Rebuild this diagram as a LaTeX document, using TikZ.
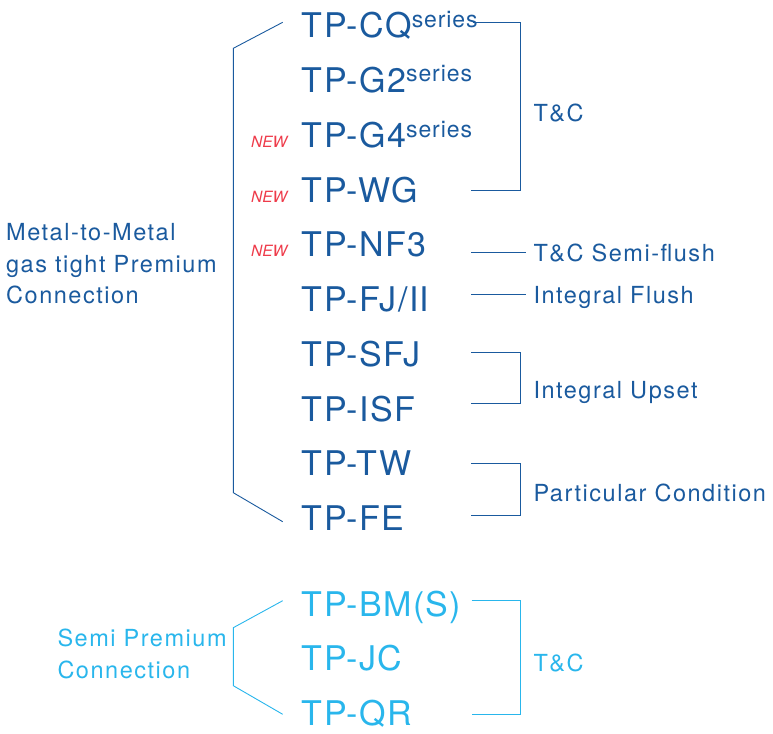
\documentclass[tikz,border=0pt]{standalone}
\usepackage{fontspec}
\setmainfont{TeX Gyre Heros}
\newfontfamily\prodfont[LetterSpace=4]{TeX Gyre Heros}
\newfontfamily\labfont[LetterSpace=6.5]{TeX Gyre Heros}
\definecolor{dblue}{HTML}{1A5A9E}
\definecolor{lblue}{HTML}{29B6EC}
\definecolor{newred}{HTML}{EE3B4A}
\newcommand\serieslab{\raisebox{10.6pt}{\fontsize{23}{23}\selectfont series}}
\begin{document}
\begin{tikzpicture}[x=1pt,y=-1pt,
  prod/.style={anchor=base west,inner sep=0pt,text=dblue,font=\prodfont\fontsize{34}{34}\selectfont},
  lprod/.style={prod,text=lblue},
  lab/.style={anchor=base west,inner sep=0pt,text=dblue,font=\labfont\fontsize{23.5}{23.5}\selectfont},
  llab/.style={lab,text=lblue},
  newtag/.style={anchor=base east,inner sep=0pt,text=newred,font=\fontsize{15.5}{15.5}\selectfont\itshape},
  brk/.style={draw=dblue,line width=0.9pt},
  lbrk/.style={draw=lblue,line width=0.9pt}]
\useasboundingbox (0,0) rectangle (773,733);

% product names (premium)
\node[prod] (cq)  at (301.7,37.7)  {TP-CQ\serieslab};
\node[prod] (g2)  at (301.7,92.3)  {TP-G2\serieslab};
\node[prod] (g4)  at (301.7,147.7) {TP-G4\serieslab};
\node[prod] (wg)  at (301.7,202.3) {TP-WG};
\node[prod] (nf3) at (301.7,256.7) {TP-NF3};
\node[prod] (fj)  at (301.7,311)   {TP-FJ/II};
\node[prod] (sfj) at (301.7,366.7) {TP-SFJ};
\node[prod] (isf) at (301.7,421)   {TP-ISF};
\node[prod] (tw)  at (301.7,475.5) {TP-TW};
\node[prod] (fe)  at (301.7,530)   {TP-FE};

% NEW tags
\node[newtag] (new1) at (287.5,147.7) {NEW};
\node[newtag] (new2) at (287.5,202.3) {NEW};
\node[newtag] (new3) at (287.5,256.7) {NEW};

% semi premium products
\node[lprod] (bm) at (301.7,616.7) {TP-BM(S)};
\node[lprod] (jc) at (301.7,670.7) {TP-JC};
\node[lprod] (qr) at (301.7,725.7) {TP-QR};

% left group labels
\node[lab] (mm1) at (6,240.7) {Metal-to-Metal};
\node[lab] (mm2) at (6,272.7) {gas tight Premium};
\node[lab] (mm3) at (6,303.6) {Connection};
\node[llab] (sp1) at (57.3,646) {Semi Premium};
\node[llab] (sp2) at (57.3,678.3) {Connection};

% right labels
\node[lab] (tc1) at (533.3,121.4) {T\&C};
\node[lab] (tcs) at (533.3,261.7) {T\&C Semi-flush};
\node[lab] (ifl) at (533.3,303.3) {Integral Flush};
\node[lab] (iup) at (533.3,398.3) {Integral Upset};
\node[lab] (pc)  at (533.3,501.7) {Particular Condition};
\node[llab] (tc2) at (533.3,671.3) {T\&C};

% bracket coordinates
\coordinate (a1) at (282.7,22.3);
\coordinate (a2) at (233.3,48.3);
\coordinate (a3) at (233.3,492.7);
\coordinate (a4) at (282.7,521.7);
\draw[brk] (a1) -- (a2) -- (a3) -- (a4);

\coordinate (b1) at (473,22.3);
\coordinate (b2) at (520,22.3);
\coordinate (b3) at (520,190.7);
\coordinate (b4) at (470.7,190.7);
\draw[brk] (b1) -- (b2) -- (b3) -- (b4);

\coordinate (c1) at (471,252.7);
\coordinate (c2) at (526,252.7);
\draw[brk] (c1) -- (c2);

\coordinate (d1) at (471,294.7);
\coordinate (d2) at (526,294.7);
\draw[brk] (d1) -- (d2);

\coordinate (e1) at (471,352.3);
\coordinate (e2) at (520,352.3);
\coordinate (e3) at (520,403.3);
\coordinate (e4) at (471,403.3);
\draw[brk] (e1) -- (e2) -- (e3) -- (e4);

\coordinate (f1) at (471,463.3);
\coordinate (f2) at (520,463.3);
\coordinate (f3) at (520,515);
\coordinate (f4) at (471,515);
\draw[brk] (f1) -- (f2) -- (f3) -- (f4);

\coordinate (g1) at (282.7,600.7);
\coordinate (g2c) at (233.3,627.7);
\coordinate (g3) at (233.3,685.7);
\coordinate (g4c) at (282.7,714.3);
\draw[lbrk] (g1) -- (g2c) -- (g3) -- (g4c);

\coordinate (h1) at (471.7,600.7);
\coordinate (h2) at (520.7,600.7);
\coordinate (h3) at (520.7,714.3);
\coordinate (h4) at (471.7,714.3);
\draw[lbrk] (h1) -- (h2) -- (h3) -- (h4);
\end{tikzpicture}
\end{document}
